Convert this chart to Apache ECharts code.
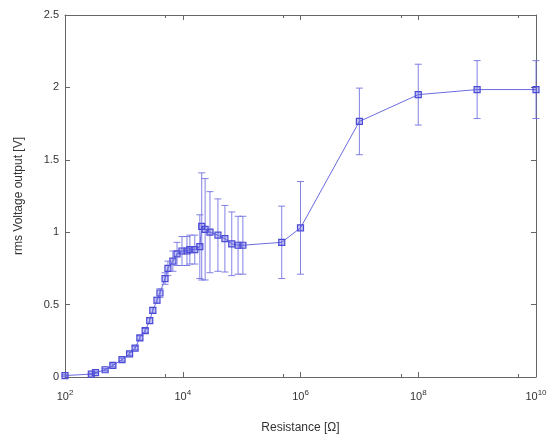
<!DOCTYPE html>
<html>
<head>
<meta charset="utf-8">
<script src="https://cdn.jsdelivr.net/npm/echarts@6/dist/echarts.min.js"></script>
<style>
  html, body { margin: 0; padding: 0; background: #fff; }
  #chart { width: 557px; height: 439px; }
</style>
</head>
<body>
<div id="chart"></div>
<script>
// Load resistance [Ohm] and measured rms output voltage [V] with its spread
const resistance = [100, 280, 330, 480, 650, 930, 1250, 1550, 1870, 2300, 2750, 3100, 3650, 4100, 5000, 5600, 6800, 8000, 9700, 11800, 13200, 16000, 19500, 21000, 24000, 29000, 39600, 52000, 68000, 87000, 105000, 480000, 1000000, 10000000, 100000000, 1000000000, 10000000000];
const vrms = [0.01, 0.02, 0.03, 0.05, 0.08, 0.12, 0.16, 0.2, 0.27, 0.32, 0.39, 0.46, 0.53, 0.58, 0.68, 0.75, 0.8, 0.85, 0.87, 0.87, 0.88, 0.88, 0.9, 1.04, 1.02, 1.0, 0.98, 0.955, 0.92, 0.91, 0.91, 0.93, 1.03, 1.765, 1.95, 1.985, 1.985];
const vErr = [0.005, 0.005, 0.005, 0.008, 0.01, 0.01, 0.012, 0.012, 0.015, 0.015, 0.02, 0.02, 0.02, 0.03, 0.04, 0.05, 0.07, 0.08, 0.1, 0.1, 0.1, 0.1, 0.22, 0.37, 0.35, 0.28, 0.25, 0.23, 0.22, 0.2, 0.2, 0.25, 0.32, 0.23, 0.21, 0.2, 0.2];

const yTicks = [0, 0.5, 1, 1.5, 2, 2.5];

const lineColor = '#6c6ce0';
const markColor = '#4a4ad6';
const axisColor = '#666';
const textColor = '#333';
const font = 'Liberation Sans';

const points = resistance.map((r, i) => [r, vrms[i]]);
const bars = resistance.map((r, i) => [r, vrms[i] - vErr[i], vrms[i] + vErr[i]]);

function expLabel(v) {
  const e = Math.round(Math.log10(v));
  return '{b|10}{s|' + e + '}';
}

const xRich = {
  b: { fontSize: 11, color: textColor, fontFamily: font },
  s: { fontSize: 8, color: textColor, fontFamily: font, padding: [0, 0, 7, 0] }
};

const chart = echarts.init(document.getElementById('chart'), null, { renderer: 'canvas' });

chart.setOption({
  animation: false,
  backgroundColor: '#fff',
  grid: { left: 65, top: 15, right: 21, bottom: 60, show: false },
  xAxis: [
    {
      type: 'log', logBase: 10, min: 100, max: 1e10, interval: 2,
      name: 'Resistance [\u03A9]', nameLocation: 'middle', nameGap: 45,
      nameTextStyle: { fontSize: 12, color: textColor, fontFamily: font },
      axisLine: { onZero: false, lineStyle: { color: axisColor, width: 1 } },
      axisTick: { inside: true, length: 5, lineStyle: { color: axisColor } },
      minorTick: { show: true, splitNumber: 2, length: 3, lineStyle: { color: axisColor } },
      axisLabel: { formatter: expLabel, rich: xRich, margin: 12 },
      splitLine: { show: false }
    },
    {
      type: 'log', logBase: 10, min: 100, max: 1e10, interval: 2, position: 'top',
      axisLine: { onZero: false, lineStyle: { color: axisColor, width: 1 } },
      axisTick: { inside: true, length: 5, lineStyle: { color: axisColor } },
      minorTick: { show: true, splitNumber: 2, length: 3, lineStyle: { color: axisColor } },
      axisLabel: { show: false },
      splitLine: { show: false }
    }
  ],
  yAxis: [
    {
      type: 'value', min: yTicks[0], max: yTicks[yTicks.length - 1], interval: 0.5,
      name: 'rms Voltage output [V]', nameLocation: 'middle', nameGap: 40,
      nameTextStyle: { fontSize: 12, color: textColor, fontFamily: font },
      axisLine: { show: true, onZero: false, lineStyle: { color: axisColor, width: 1 } },
      axisTick: { show: true, inside: true, length: 5, lineStyle: { color: axisColor } },
      axisLabel: { fontSize: 11, color: textColor, fontFamily: font, margin: 6 },
      splitLine: { show: false }
    },
    {
      type: 'value', min: yTicks[0], max: yTicks[yTicks.length - 1], interval: 0.5, position: 'right',
      axisLine: { show: true, onZero: false, lineStyle: { color: axisColor, width: 1 } },
      axisTick: { show: true, inside: true, length: 5, lineStyle: { color: axisColor } },
      axisLabel: { show: false },
      splitLine: { show: false }
    }
  ],
  series: [
    {
      type: 'custom',
      xAxisIndex: 0, yAxisIndex: 0,
      data: bars,
      clip: false,
      renderItem: function (params, api) {
        const x = api.value(0);
        const top = api.coord([x, api.value(2)]);
        const bot = api.coord([x, api.value(1)]);
        const cap = 3.5;
        const st = { stroke: lineColor, lineWidth: 1, opacity: 0.85 };
        return {
          type: 'group',
          children: [
            { type: 'line', shape: { x1: top[0], y1: top[1], x2: bot[0], y2: bot[1] }, style: st },
            { type: 'line', shape: { x1: top[0] - cap, y1: top[1], x2: top[0] + cap, y2: top[1] }, style: st },
            { type: 'line', shape: { x1: bot[0] - cap, y1: bot[1], x2: bot[0] + cap, y2: bot[1] }, style: st }
          ]
        };
      },
      z: 2
    },
    {
      type: 'line',
      xAxisIndex: 0, yAxisIndex: 0,
      data: points,
      symbol: 'rect',
      symbolSize: 6,
      lineStyle: { color: lineColor, width: 1 },
      itemStyle: { color: 'rgba(90,90,220,0.35)', borderColor: markColor, borderWidth: 1.2 },
      clip: false,
      z: 3
    }
  ]
});
</script>
</body>
</html>
